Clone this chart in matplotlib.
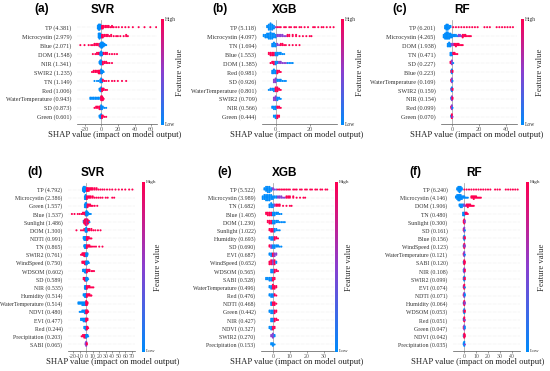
import numpy as np
import matplotlib
matplotlib.use("Agg")
import matplotlib.pyplot as plt
from matplotlib.colors import LinearSegmentedColormap

# ---------------- data ----------------
# each row: list of (shap value, number of points, feature value 0=low 1=high)
svr_a_feat = ["TP", "Microcystin", "Blue", "DOM", "NIR", "SWIR2", "TN", "Red",
              "WaterTemperature", "SD", "Green"]
svr_a_imp = ["4.381", "2.979", "2.071", "1.548", "1.341", "1.235", "1.149", "1.006",
             "0.943", "0.873", "0.601"]
svr_a_rows = [
    [(-4, 3, 0), (-3, 5, 0), (-2, 5, 0), (-1, 4, 0), (0, 3, 0), (1, 3, 1), (2, 3, 1), (3, 2, 1),
     (5, 2, 1), (7, 2, 1), (9, 2, 1), (11, 1, 1), (13, 2, 1), (15, 1, 1), (18, 1, 1), (21, 1, 1),
     (25, 1, 1), (29, 1, 1), (33, 1, 1), (38, 1, 1), (45, 1, 1), (52, 1, 1), (59, 1, 1), (66, 1, 1)],
    [(-3, 4, 0), (-2, 5, 0), (-1, 4, 0), (0, 3, 0), (1, 3, 1), (2, 3, 1), (4, 2, 1), (6, 2, 1),
     (8, 2, 1), (10, 1, 1), (12, 2, 1), (15, 1, 1), (18, 1, 1), (20, 1, 1), (23, 1, 1), (27, 1, 1),
     (30, 2, 1), (32, 1, 1)],
    [(-25, 1, 1), (-20, 1, 1), (-15, 1, 1), (-12, 1, 1), (-10, 1, 1), (-8, 2, 1), (-6, 2, 1),
     (-4, 2, 1), (-2, 3, 1), (-1, 3, 0), (0, 5, 0), (1, 5, 0), (2, 4, 0), (3, 3, 0), (4, 2, 0),
     (5, 1, 0), (6, 1, 0)],
    [(-10, 1, 1), (-7, 1, 1), (-5, 2, 1), (-3, 2, 1), (-2, 2, 1), (-1, 3, 0), (0, 4, 0), (1, 3, 0),
     (2, 2, 0), (3, 2, 1), (5, 2, 1), (7, 2, 1), (10, 1, 1), (13, 1, 1), (16, 1, 1), (19, 1, 1)],
    [(-2, 2, 0), (-1, 4, 0), (0, 4, 0), (1, 3, 0), (2, 3, 1), (4, 2, 1), (6, 2, 1), (8, 1, 1),
     (10, 1, 1), (13, 1, 1)],
    [(-11, 1, 1), (-9, 2, 1), (-7, 2, 1), (-5, 2, 1), (-3, 3, 1), (-2, 3, 1), (-1, 3, 1),
     (0, 4, 0), (1, 3, 0), (2, 2, 0), (3, 1, 0)],
    [(-8, 1, 0), (-5, 1, 0), (-3, 1, 0), (-1, 3, 0), (0, 4, 0), (1, 3, 0), (2, 2, 1), (4, 1, 1),
     (6, 1, 1), (9, 1, 1), (13, 1, 1), (16, 1, 1), (20, 1, 1), (25, 1, 1), (30, 1, 1)],
    [(-2, 2, 0), (-1, 3, 0), (0, 4, 0), (1, 3, 1), (2, 2, 1), (3, 2, 1), (5, 1, 1), (7, 1, 1)],
    [(-13, 2, 0), (-11, 2, 0), (-9, 2, 0), (-7, 2, 0), (-5, 2, 0), (-3, 2, 0), (-1, 2, 0),
     (0, 4, 1), (1, 4, 1), (2, 3, 1), (3, 1, 1)],
    [(-8, 1, 1), (-6, 2, 1), (-4, 2, 1), (-2, 3, 1), (-1, 3, 1), (0, 4, 0), (1, 3, 0), (2, 2, 0),
     (4, 1, 0), (6, 1, 0)],
    [(-2, 2, 0), (-1, 3, 0), (0, 4, 0), (1, 3, 1), (2, 2, 1), (4, 1, 1), (6, 1, 1)],
]

xgb_b_feat = ["TP", "Microcystin", "TN", "Blue", "DOM", "Red", "SD", "WaterTemperature",
              "SWIR2", "NIR", "Green"]
xgb_b_imp = ["5.118", "4.097", "1.694", "1.553", "1.385", "0.981", "0.926", "0.801",
             "0.709", "0.566", "0.444"]
xgb_b_rows = [
    [(-5, 2, 0), (-4, 5, 0), (-3, 6, 0), (-2, 5, 0), (-1, 3, 0), (0, 1, 0.5), (1, 1, 1), (2, 1, 1),
     (3, 1, 1), (5, 1, 1), (6, 1, 1), (8, 1, 1), (9, 1, 1), (11, 1, 1), (12, 1, 1), (14, 1, 1),
     (15, 1, 1), (17, 1, 1), (19, 1, 1), (22, 1, 1), (23, 1, 1), (25, 1, 1), (27, 1, 1),
     (28, 1, 1), (30, 1, 1), (32, 1, 1), (34, 1, 1)],
    [(-7, 2, 0), (-6, 3, 0), (-5, 4, 0), (-4, 5, 0), (-3, 6, 0), (-2, 5, 0), (-1, 4, 0), (0, 3, 0),
     (1, 2, 0.5), (2, 2, 0.5), (3, 2, 0.5), (4, 2, 0.5), (5, 1, 0.5), (6, 1, 0.5), (7, 2, 1),
     (8, 2, 1), (10, 2, 1), (12, 2, 1), (14, 1, 1), (16, 1, 1), (18, 1, 1), (20, 1, 1), (21, 1, 1)],
    [(-2, 3, 0), (-1, 4, 0), (0, 3, 0), (1, 2, 0.5), (2, 1, 0.5), (3, 2, 1), (4, 2, 1), (5, 1, 1),
     (6, 1, 1), (8, 1, 1), (10, 1, 1), (12, 1, 1), (14, 1, 1)],
    [(-4, 2, 1), (-3, 3, 1), (-2, 3, 1), (-1, 3, 1), (0, 3, 0), (1, 3, 0), (2, 2, 0), (3, 2, 0),
     (4, 1, 0), (5, 1, 0)],
    [(-3, 1, 1), (-2, 2, 1), (-1, 3, 1), (0, 3, 0), (1, 2, 0), (2, 2, 0.5), (3, 2, 0.5),
     (4, 1, 0.5), (5, 1, 0.5), (6, 1, 0.5), (7, 1, 0), (8, 1, 0), (9, 1, 0), (10, 1, 0)],
    [(-2, 3, 0), (-1, 4, 0), (0, 3, 0), (1, 3, 1), (2, 2, 1), (3, 1, 1)],
    [(-1, 3, 0.5), (0, 4, 0.5), (1, 2, 0), (2, 2, 0), (3, 2, 0), (4, 1, 0), (5, 1, 0), (6, 1, 0)],
    [(-4, 1, 0), (-3, 2, 0), (-2, 2, 0), (-1, 3, 0), (0, 4, 1), (1, 4, 1), (2, 2, 1), (3, 1, 1)],
    [(-1, 3, 0.5), (0, 4, 0.5), (1, 3, 0), (2, 2, 0), (3, 1, 0)],
    [(-2, 2, 0), (-1, 3, 0), (0, 3, 0), (1, 2, 1), (2, 2, 1), (3, 1, 1)],
    [(-1, 2, 0), (0, 3, 0), (1, 3, 1), (2, 2, 1)],
]

rf_c_feat = ["TP", "Microcystin", "DOM", "TN", "SD", "Blue", "WaterTemperature", "SWIR2",
             "NIR", "Red", "Green"]
rf_c_imp = ["6.201", "4.265", "1.938", "0.471", "0.227", "0.223", "0.169", "0.159",
            "0.154", "0.099", "0.070"]
rf_c_rows = [
    [(-5, 3, 0), (-4, 5, 0), (-3, 5, 0), (-2, 3, 0), (-1, 2, 0), (1, 1, 1), (3, 1, 1), (5, 1, 1),
     (7, 1, 1), (9, 1, 1), (11, 1, 1), (13, 1, 1), (15, 1, 1), (17, 1, 1), (19, 1, 1), (24, 1, 1),
     (26, 1, 1), (28, 1, 1), (33, 1, 1), (35, 1, 1), (37, 1, 1), (39, 1, 1), (41, 1, 1),
     (43, 1, 1), (45, 1, 1)],
    [(-6, 3, 0), (-5, 5, 0), (-4, 6, 0), (-3, 6, 0), (-2, 5, 0), (-1, 4, 0), (0, 3, 0), (1, 2, 0),
     (2, 2, 0), (3, 2, 0), (4, 1, 0), (5, 2, 0.5), (6, 2, 0.5), (7, 1, 0.5), (8, 3, 1), (9, 2, 1),
     (10, 2, 1), (11, 1, 1), (12, 1, 1), (13, 1, 1), (14, 1, 1)],
    [(-3, 3, 0), (-2, 4, 0), (-1, 3, 0), (0, 2, 0.5), (1, 2, 0.5), (2, 2, 1), (3, 3, 1), (4, 2, 1),
     (5, 2, 1), (6, 1, 1), (7, 1, 1), (8, 1, 1)],
    [(-1, 3, 0), (0, 3, 0), (1, 2, 1), (2, 2, 1), (3, 1, 1), (4, 1, 1)],
    [(-1, 2, 1), (0, 4, 0.5), (1, 1, 0)],
    [(-0.5, 2, 1), (0, 4, 0), (0.5, 2, 1)],
    [(-0.5, 2, 1), (0, 4, 0.5), (0.5, 1, 0)],
    [(-0.5, 2, 0.5), (0, 4, 0), (0.5, 2, 1)],
    [(-0.5, 2, 0), (0, 4, 0.5), (0.5, 2, 1)],
    [(-0.5, 2, 1), (0, 4, 0.5), (0.5, 1, 0)],
    [(-0.5, 2, 0), (0, 4, 1), (0.5, 1, 0.5)],
]

svr_d_feat = ["TP", "Microcystin", "Green", "Blue", "Sunlight", "DOM", "NDTI", "TN", "SWIR2",
              "WindSpeed", "WDSOM", "SD", "NIR", "Humidity", "WaterTemperature", "NDVI", "EVI",
              "Red", "Precipitation", "SABI"]
svr_d_imp = ["4.792", "2.386", "1.557", "1.537", "1.486", "1.300", "0.991", "0.865", "0.761",
             "0.750", "0.602", "0.589", "0.535", "0.514", "0.514", "0.480", "0.477", "0.244",
             "0.203", "0.065"]
svr_d_rows = [
    [(-5, 3, 0), (-4, 4, 0), (-3, 5, 0), (-2, 4, 0), (-1, 3, 0), (0, 2, 0), (1, 3, 1), (2, 3, 1),
     (4, 3, 1), (6, 2, 1), (8, 2, 1), (10, 2, 1), (13, 2, 1), (16, 2, 1), (19, 1, 1), (22, 1, 1),
     (25, 1, 1), (28, 1, 1), (32, 1, 1), (36, 1, 1), (40, 1, 1), (45, 1, 1), (50, 1, 1),
     (55, 1, 1), (60, 1, 1), (66, 1, 1), (71, 1, 1)],
    [(-2, 3, 0), (-1, 4, 0), (0, 3, 0), (1, 3, 1), (3, 2, 1), (5, 2, 1), (7, 2, 1), (10, 2, 1),
     (13, 1, 1), (16, 1, 1), (19, 1, 1), (22, 1, 1), (25, 1, 1), (30, 1, 1), (33, 1, 1),
     (40, 1, 1), (43, 1, 1)],
    [(-2, 3, 0), (-1, 4, 0), (0, 4, 0), (1, 3, 0), (2, 3, 1), (4, 2, 1), (6, 2, 1), (8, 1, 1),
     (10, 1, 1), (13, 1, 1), (17, 1, 1)],
    [(-22, 1, 1), (-18, 1, 1), (-13, 1, 1), (-10, 1, 1), (-7, 1, 1), (-5, 2, 1), (-3, 2, 1),
     (-1, 3, 1), (0, 4, 0), (1, 4, 0), (2, 3, 0), (3, 2, 0), (5, 1, 0), (7, 1, 0)],
    [(-4, 2, 0), (-3, 3, 1), (-2, 4, 1), (-1, 5, 1), (0, 5, 1), (1, 5, 0.5), (2, 4, 1), (3, 3, 1),
     (4, 2, 1), (5, 1, 0)],
    [(-15, 1, 1), (-8, 1, 1), (-5, 1, 1), (-3, 2, 1), (-1, 3, 0), (0, 4, 0), (1, 3, 0), (3, 2, 1),
     (5, 2, 1), (8, 2, 1), (11, 1, 1), (14, 1, 1), (18, 1, 1), (22, 1, 1)],
    [(-4, 2, 0), (-3, 3, 0), (-2, 3, 0), (-1, 3, 0), (0, 3, 0), (1, 3, 1), (2, 3, 1), (4, 2, 1),
     (6, 1, 1), (8, 1, 1)],
    [(-3, 2, 0), (-2, 3, 0), (-1, 3, 0), (0, 3, 0), (1, 3, 1), (3, 2, 1), (5, 2, 1), (7, 1, 1),
     (9, 1, 1), (12, 1, 1), (15, 1, 1), (20, 1, 1), (25, 1, 1)],
    [(-8, 1, 1), (-6, 2, 1), (-5, 2, 1), (-4, 2, 1), (-3, 3, 1), (-2, 3, 1), (-1, 3, 1),
     (0, 3, 0), (1, 3, 0), (2, 2, 0)],
    [(-6, 2, 1), (-4, 2, 1), (-2, 3, 1), (-1, 3, 1), (0, 3, 0), (1, 3, 0), (2, 2, 0), (3, 2, 0),
     (4, 1, 0)],
    [(-5, 2, 0), (-4, 2, 0), (-2, 3, 0), (-1, 3, 0), (0, 3, 0), (1, 3, 1), (3, 2, 1), (5, 2, 1),
     (8, 1, 1), (10, 1, 1), (12, 1, 1)],
    [(-4, 2, 1), (-2, 3, 1), (-1, 3, 1), (0, 3, 0), (1, 3, 0), (2, 2, 0), (3, 1, 0)],
    [(-2, 3, 0), (-1, 3, 0), (0, 3, 0), (1, 3, 1), (3, 2, 1), (5, 2, 1), (7, 1, 1), (9, 1, 1),
     (11, 1, 1)],
    [(-4, 2, 0), (-2, 3, 0), (-1, 3, 0), (0, 3, 0), (1, 3, 1), (3, 2, 1), (5, 2, 1), (7, 1, 1),
     (8, 1, 1)],
    [(-12, 2, 0), (-10, 2, 0), (-8, 2, 0), (-6, 3, 0), (-4, 3, 0), (-2, 3, 0), (-1, 3, 0),
     (0, 4, 1), (1, 3, 1), (2, 2, 1)],
    [(-10, 1, 0), (-8, 1, 0), (-6, 2, 0), (-4, 2, 0), (-2, 3, 0), (-1, 3, 0), (0, 3, 1),
     (1, 3, 1), (2, 2, 1), (3, 1, 1)],
    [(-8, 2, 0), (-6, 2, 0), (-4, 3, 0), (-2, 3, 0), (-1, 3, 0), (0, 3, 1), (1, 2, 1), (2, 2, 1)],
    [(-3, 2, 0), (-1, 3, 0), (0, 3, 0), (1, 3, 1), (2, 2, 1), (3, 1, 1)],
    [(-7, 1, 1), (-5, 2, 1), (-3, 3, 1), (-1, 3, 1), (0, 3, 0), (1, 2, 0), (2, 2, 0), (3, 1, 0)],
    [(-1, 2, 0.5), (0, 4, 0.5), (1, 2, 1)],
]

xgb_e_feat = ["TP", "Microcystin", "TN", "Blue", "DOM", "Sunlight", "Humidity", "SD", "EVI",
              "WindSpeed", "WDSOM", "SABI", "WaterTemperature", "Red", "NDTI", "Green", "NIR",
              "NDVI", "SWIR2", "Precipitation"]
xgb_e_imp = ["5.522", "3.989", "1.682", "1.405", "1.230", "1.022", "0.693", "0.690", "0.687",
             "0.652", "0.565", "0.528", "0.496", "0.476", "0.468", "0.442", "0.427", "0.327",
             "0.270", "0.153"]
xgb_e_rows = [
    [(-5, 2, 0), (-4, 4, 0), (-3, 5, 0), (-2, 5, 0), (-1, 3, 0), (0, 2, 0.5), (1, 1, 0.5),
     (2, 1, 0.5), (3, 1, 1), (4, 1, 1), (5, 1, 1), (6, 1, 1), (7, 1, 1), (8, 1, 1), (9, 1, 1),
     (10, 1, 1), (12, 1, 1), (13, 1, 1), (14, 1, 1), (16, 1, 1), (17, 1, 1), (19, 1, 1),
     (20, 1, 1), (22, 1, 1), (23, 1, 1), (25, 1, 1), (26, 1, 1), (28, 1, 1), (29, 1, 1),
     (31, 1, 1), (32, 1, 1)],
    [(-6, 3, 0), (-5, 4, 0), (-4, 5, 0), (-3, 5, 0), (-2, 5, 0), (-1, 4, 0), (0, 3, 0), (1, 2, 0),
     (2, 2, 0), (3, 2, 0.5), (4, 2, 0.5), (5, 2, 0.5), (6, 1, 0.5), (7, 1, 0.5), (8, 2, 1),
     (9, 2, 1), (10, 2, 1), (12, 2, 1), (14, 1, 1), (16, 1, 1), (18, 1, 1), (19, 1, 1)],
    [(-2, 3, 0), (-1, 4, 0), (0, 3, 0), (1, 2, 0.5), (2, 2, 1), (3, 2, 1), (4, 2, 1), (6, 1, 1),
     (8, 1, 1), (10, 1, 1), (11, 1, 1)],
    [(-4, 2, 1), (-3, 3, 1), (-2, 3, 1), (-1, 3, 1), (0, 3, 0), (1, 3, 0), (2, 2, 0), (3, 2, 0),
     (4, 1, 0), (5, 1, 0)],
    [(-3, 2, 1), (-2, 3, 1), (-1, 3, 1), (0, 3, 0), (1, 3, 0), (2, 2, 0), (3, 2, 0), (4, 1, 0),
     (5, 1, 0), (6, 1, 0), (7, 1, 0)],
    [(-2, 2, 1), (-1, 3, 1), (0, 3, 1), (1, 3, 0), (2, 2, 0), (3, 1, 0), (4, 1, 0)],
    [(-2, 2, 0), (-1, 3, 0), (0, 3, 0), (1, 3, 1), (2, 2, 1), (3, 1, 1)],
    [(-2, 2, 1), (-1, 3, 0.5), (0, 3, 0), (1, 3, 0), (2, 2, 0), (3, 2, 0), (4, 1, 0), (5, 1, 0)],
    [(-2, 2, 0), (-1, 3, 0), (0, 3, 1), (1, 3, 0.5), (2, 2, 0.5)],
    [(-2, 3, 1), (-1, 4, 1), (0, 4, 0.5), (1, 4, 1), (2, 2, 0)],
    [(-1, 3, 0), (0, 3, 0), (1, 3, 1), (2, 2, 1), (3, 1, 1)],
    [(-4, 2, 0), (-3, 2, 0), (-2, 3, 0), (-1, 3, 0), (0, 3, 1), (1, 2, 1)],
    [(-2, 2, 0), (-1, 3, 0), (0, 4, 1), (1, 3, 1), (2, 2, 1)],
    [(-2, 2, 0), (-1, 3, 0), (0, 3, 0), (1, 2, 1), (2, 1, 1)],
    [(-1, 3, 0), (0, 3, 1), (1, 3, 1), (2, 1, 1)],
    [(-2, 2, 0), (-1, 3, 0), (0, 3, 0), (1, 3, 1), (2, 2, 1)],
    [(-1, 3, 0), (0, 3, 0), (1, 3, 1), (2, 2, 1), (3, 1, 1)],
    [(-2, 2, 0), (-1, 3, 0), (0, 3, 1), (1, 2, 1)],
    [(-1, 2, 0.5), (0, 4, 0.5), (1, 2, 0)],
    [(-1, 2, 0), (0, 3, 0), (1, 1, 0)],
]

rf_f_feat = ["TP", "Microcystin", "DOM", "TN", "Sunlight", "SD", "Blue", "WindSpeed",
             "WaterTemperature", "SABI", "NIR", "SWIR2", "EVI", "NDTI", "Humidity", "WDSOM",
             "Red", "Green", "NDVI", "Precipitation"]
rf_f_imp = ["6.240", "4.146", "1.906", "0.480", "0.300", "0.161", "0.156", "0.123", "0.121",
            "0.120", "0.108", "0.099", "0.074", "0.071", "0.064", "0.053", "0.051", "0.047",
            "0.042", "0.035"]
rf_f_rows = [
    [(-6, 2, 0), (-5, 4, 0), (-4, 5, 0), (-3, 4, 0), (-2, 2, 0), (0, 1, 1), (2, 1, 1), (4, 1, 1),
     (6, 1, 1), (8, 1, 1), (10, 1, 1), (12, 1, 1), (14, 1, 1), (16, 1, 1), (18, 1, 1),
     (20, 1, 1), (22, 1, 1), (26, 1, 1), (28, 1, 1), (30, 1, 1), (35, 1, 1), (37, 1, 1),
     (39, 1, 1), (41, 1, 1), (43, 1, 1), (45, 1, 1)],
    [(-7, 2, 0), (-6, 4, 0), (-5, 5, 0), (-4, 5, 0), (-3, 4, 0), (-2, 3, 0), (-1, 2, 0), (0, 2, 0),
     (1, 1, 0), (2, 1, 0), (3, 1, 0), (6, 2, 1), (7, 2, 1), (8, 3, 1), (9, 2, 1), (10, 2, 1),
     (11, 1, 1), (12, 1, 1), (13, 1, 1), (14, 1, 1)],
    [(-4, 2, 0), (-3, 3, 0), (-2, 3, 0), (-1, 2, 0), (0, 2, 0.5), (1, 1, 0.5), (2, 2, 1),
     (3, 3, 1), (4, 2, 1), (5, 2, 1), (6, 1, 1), (7, 1, 1), (8, 1, 1)],
    [(-1, 3, 0), (0, 3, 0), (1, 2, 1), (2, 2, 1), (3, 1, 1)],
    [(-0.5, 2, 1), (0, 4, 1), (0.5, 2, 0.5)],
    [(-0.5, 2, 1), (0, 4, 0.5), (0.5, 1, 0)],
    [(-0.5, 2, 1), (0, 4, 0), (0.5, 2, 1)],
    [(-0.5, 2, 0), (0, 4, 1), (0.5, 2, 0.5)],
    [(-0.5, 2, 1), (0, 4, 0.5), (0.5, 1, 0)],
    [(-0.5, 2, 0), (0, 4, 1), (0.5, 2, 1)],
    [(-0.5, 2, 0), (0, 4, 0.5), (0.5, 2, 1)],
    [(-0.5, 2, 1), (0, 4, 0), (0.5, 2, 1)],
    [(-0.5, 2, 0.5), (0, 4, 1), (0.5, 1, 0)],
    [(-0.5, 2, 1), (0, 4, 0.5), (0.5, 2, 0)],
    [(-0.5, 2, 0), (0, 4, 1), (0.5, 2, 0.5)],
    [(-0.5, 2, 1), (0, 4, 0), (0.5, 2, 1)],
    [(-0.5, 2, 0), (0, 4, 1), (0.5, 1, 0.5)],
    [(-0.5, 2, 1), (0, 4, 0.5), (0.5, 2, 0)],
    [(-0.5, 2, 0), (0, 4, 1), (0.5, 2, 1)],
    [(-0.5, 2, 0), (0, 4, 0), (0.5, 1, 0.5)],
]

# ---------------- layout (pixels in a 550 x 371 image) ----------------
W, H = 550, 371
panels = [
    dict(letter="(a)", title="SVR", feat=svr_a_feat, imp=svr_a_imp, rows=svr_a_rows,
         box=(77, 20, 157, 124), xlim=(-29, 67), ticks=[-20, 0, 20, 40, 60],
         lx=42, tx=103, ty=10, cx=162, fvx=180, xlx=115, fs=4.4),
    dict(letter="(b)", title="XGB", feat=xgb_b_feat, imp=xgb_b_imp, rows=xgb_b_rows,
         box=(262, 20, 337, 124), xlim=(-8, 36), ticks=[0, 20],
         lx=220, tx=285, ty=10, cx=342, fvx=360, xlx=297, fs=4.4),
    dict(letter="(c)", title="RF", feat=rf_c_feat, imp=rf_c_imp, rows=rf_c_rows,
         box=(441, 20, 517, 124), xlim=(-8, 48), ticks=[0, 20, 40],
         lx=400, tx=462, ty=10, cx=522, fvx=540, xlx=477, fs=4.4),
    dict(letter="(d)", title="SVR", feat=svr_d_feat, imp=svr_d_imp, rows=svr_d_rows,
         box=(68, 183, 135, 351), xlim=(-28, 75), ticks=list(range(-20, 80, 10)),
         lx=35, tx=93, ty=173, cx=143, fvx=158, xlx=113, fs=4.2),
    dict(letter="(e)", title="XGB", feat=xgb_e_feat, imp=xgb_e_imp, rows=xgb_e_rows,
         box=(261, 183, 334, 351), xlim=(-7, 36), ticks=[0, 10, 20, 30],
         lx=225, tx=285, ty=173, cx=336, fvx=349, xlx=297, fs=4.2),
    dict(letter="(f)", title="RF", feat=rf_f_feat, imp=rf_f_imp, rows=rf_f_rows,
         box=(453, 183, 520, 351), xlim=(-9.5, 47), ticks=[0, 10, 20, 30, 40],
         lx=415, tx=474, ty=173, cx=527, fvx=542, xlx=478, fs=4.2),
]

cmap = LinearSegmentedColormap.from_list("shap_rb", ["#008bfb", "#8a3fd0", "#ff0052"])
serif = "Liberation Serif"
sans = "Liberation Sans"


def frac(l, t, r, b):
    return [l / W, 1 - b / H, (r - l) / W, (b - t) / H]


fig = plt.figure(figsize=(W / 100, H / 100), dpi=100)
fig.patch.set_facecolor("white")

for p in panels:
    l, t, r, b = p["box"]
    n = len(p["feat"])
    ax = fig.add_axes(frac(l, t, r, b))
    ax.set_xlim(*p["xlim"])
    ax.set_ylim(-0.8, n - 0.2)
    px_per_row = (b - t) / (n - 0.6)
    step = 1.4 / px_per_row

    # beeswarm: points sharing a value are stacked up and down around the row
    xs, ys, cs = [], [], []
    for i, row in enumerate(p["rows"]):
        y = n - 1 - i
        for x, cnt, c in row:
            for k in range(cnt):
                off = ((k + 1) // 2) * (1 if k % 2 else -1) * step
                xs.append(x)
                ys.append(y + off)
                cs.append(c)
        ax.axhline(y, color="#cccccc", lw=0.3, ls=(0, (1, 2)), zorder=0)
    ax.axvline(0, color="#999999", lw=0.5, zorder=1)
    ax.scatter(xs, ys, c=cs, cmap=cmap, vmin=0, vmax=1, s=2.2, lw=0, zorder=3)

    ax.set_yticks(range(n))
    ax.set_yticklabels([f"{f} ({v})" for f, v in zip(p["feat"], p["imp"])][::-1],
                       fontsize=p["fs"], family=serif, color="#333333")
    ax.tick_params(axis="y", length=0, pad=4)
    ax.set_xticks(p["ticks"])
    ax.set_xticklabels([str(v) for v in p["ticks"]], fontsize=p["fs"],
                       family=serif, color="#555555")
    ax.tick_params(axis="x", length=1.5, width=0.4, pad=1, color="#555555")
    for s in ["top", "right", "left"]:
        ax.spines[s].set_visible(False)
    ax.spines["bottom"].set_linewidth(0.5)
    ax.spines["bottom"].set_color("#555555")

    # colour bar
    cax = fig.add_axes(frac(p["cx"] - 1.5, t - 1, p["cx"] + 1.5, b + 1))
    cax.imshow(np.linspace(1, 0, 200).reshape(-1, 1), aspect="auto", cmap=cmap)
    cax.axis("off")
    fig.text((p["cx"] + 2.5) / W, 1 - (t - 0.5) / H, "High", fontsize=p["fs"] - 0.4,
             family=serif, color="#333333", ha="left", va="center")
    fig.text((p["cx"] + 2.5) / W, 1 - (b + 0.5) / H, "Low", fontsize=p["fs"] - 0.4,
             family=serif, color="#333333", ha="left", va="center")
    fig.text(p["fvx"] / W, 1 - (t + b) / 2 / H, "Feature value", fontsize=6.2,
             family=serif, color="#333333", rotation=90, ha="center", va="center")

    # axis label, title, letter
    fig.text(p["xlx"] / W, 1 - (b + 11) / H, "SHAP value (impact on model output)",
             fontsize=6.2, family=serif, color="#222222", ha="center", va="center")
    fig.text(p["tx"] / W, 1 - p["ty"] / H, p["title"], fontsize=8.5, family=sans,
             weight="bold", ha="center", va="center")
    fig.text(p["lx"] / W, 1 - (p["ty"] - 1) / H, p["letter"], fontsize=8.5, family=sans,
             weight="bold", ha="center", va="center")

fig.savefig("out.png", dpi=100)
